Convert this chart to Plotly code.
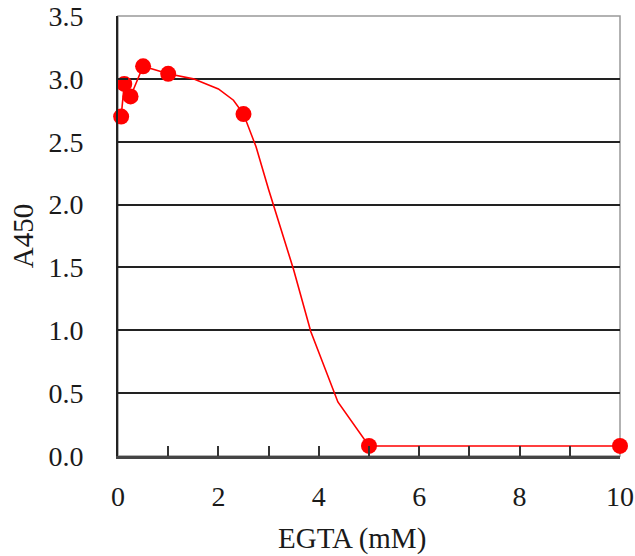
import plotly.graph_objects as go

# measured data points
egta_mM = [0.0625, 0.125, 0.25, 0.5, 1.0, 2.5, 5.0, 10.0]
a450 = [2.70, 2.96, 2.86, 3.10, 3.04, 2.72, 0.08, 0.08]

# fitted / drawn curve vertices
curve_x = [0.0625, 0.125, 0.25, 0.5, 1.0, 1.5, 2.0, 2.3, 2.5, 2.75, 3.0, 3.25, 3.5, 3.84, 4.38, 5.0, 10.0]
curve_y = [2.70, 2.96, 2.86, 3.10, 3.04, 3.00, 2.92, 2.83, 2.72, 2.46, 2.12, 1.80, 1.48, 0.99, 0.43, 0.08, 0.08]

x_ticks = [0, 2, 4, 6, 8, 10]
y_ticks = [0.0, 0.5, 1.0, 1.5, 2.0, 2.5, 3.0, 3.5]

FONT = "Liberation Serif"

fig = go.Figure()
fig.add_trace(go.Scatter(x=curve_x, y=curve_y, mode="lines",
                         line=dict(color="#ff0000", width=1.6), showlegend=False))
fig.add_trace(go.Scatter(x=egta_mM, y=a450, mode="markers",
                         marker=dict(color="#ff0000", size=16, line=dict(width=0)),
                         showlegend=False, cliponaxis=False))

fig.add_shape(type="rect", xref="paper", yref="paper", x0=0, y0=0, x1=1, y1=1,
              line=dict(color="#999999", width=1.5), layer="below")

fig.add_annotation(text="EGTA (mM)", xref="paper", yref="paper", x=0.466, y=0,
                   yshift=-64, showarrow=False, xanchor="center", yanchor="top",
                   font=dict(family=FONT, size=29, color="#1a1a1a"))

fig.update_layout(
    width=635, height=556,
    margin=dict(l=118, r=15, t=16, b=100, autoexpand=False),
    paper_bgcolor="white", plot_bgcolor="white",
    font=dict(family=FONT, size=28, color="#1a1a1a"),
    xaxis=dict(range=[0, 10], tickvals=x_ticks, ticktext=[str(v) for v in x_ticks],
               automargin=False,
               ticks="inside", ticklen=10, tickcolor="#333333", tickwidth=1.5,
               minor=dict(dtick=1, ticks="inside", ticklen=10, tickcolor="#333333", tickwidth=1.5),
               showgrid=False, zeroline=False, showline=True, linecolor="#444444", linewidth=2.5,
               ticklabelstandoff=14),
    yaxis=dict(range=[0, 3.5], tickvals=y_ticks, ticktext=[f"{v:.1f}" for v in y_ticks],
               automargin=False,
               ticks="inside", ticklen=10, tickcolor="#222222", tickwidth=1.5,
               showgrid=True, gridcolor="#222222", gridwidth=1.5, zeroline=False,
               showline=True, linecolor="#222222", linewidth=2,
               ticklabelstandoff=27,
               title=dict(text="A450", font=dict(family=FONT, size=29), standoff=6)),
)

fig.write_html("out.html", config={"displayModeBar": False},
               post_script="document.body.style.margin='0';document.body.style.overflow='hidden';")
